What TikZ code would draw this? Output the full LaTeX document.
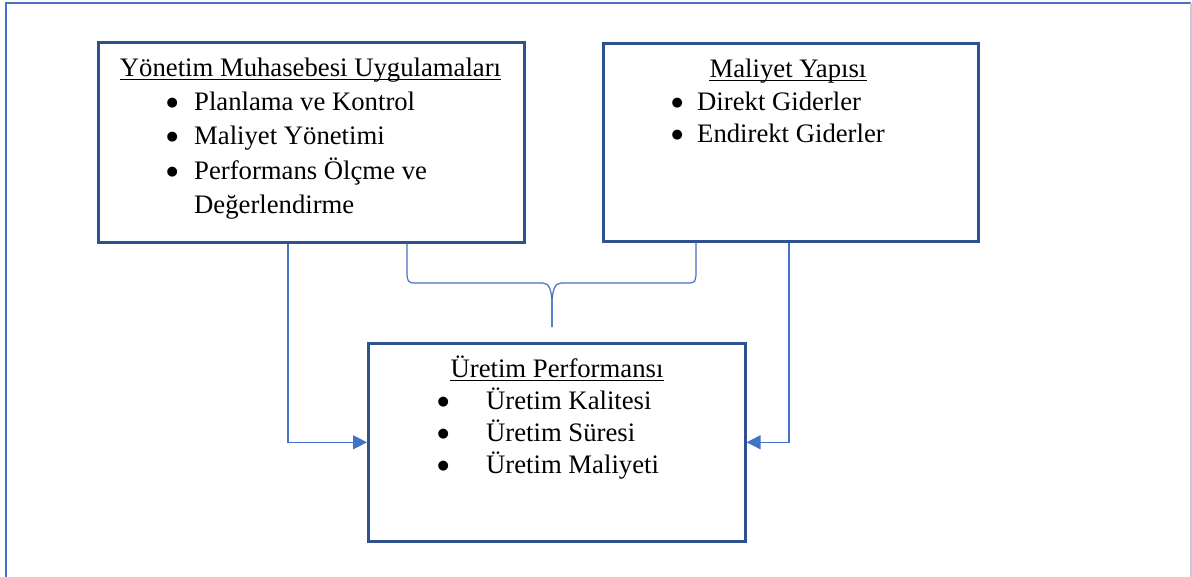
\documentclass[tikz,border=0pt]{standalone}
\usepackage{fontspec}
\setmainfont{Liberation Serif}
\newfontfamily\bulfont{DejaVu Sans}
\usetikzlibrary{arrows.meta,calc}
\definecolor{boxblue}{HTML}{2F528F}
\definecolor{linkblue}{HTML}{4472C4}
\definecolor{edgegray}{HTML}{C5CCDA}
\newcommand{\bigbul}[1]{\makebox[#1][c]{\raisebox{3.9pt}{\bulfont\fontsize{13}{14}\selectfont ●}}}
\tikzset{
  box/.style={draw=boxblue, line width=2.6pt, anchor=north west, inner sep=0pt},
  conn/.style={draw=linkblue, line width=1.3pt},
  arr/.style={conn, -{Triangle[length=14pt,width=14pt]}},
  brace/.style={draw=linkblue, line width=1.2pt},
  txt/.style={anchor=base west, inner sep=0pt, font=\fontsize{26.7}{33}\selectfont},
  ttl/.style={anchor=base, inner sep=0pt, font=\fontsize{26.7}{33}\selectfont},
  uline/.style={draw=black, line width=1.7pt}
}
\begin{document}
\begin{tikzpicture}[x=1pt,y=-1pt]
\useasboundingbox (0,0) rectangle (1192,576);
\clip (0,0) rectangle (1192,576);
% outer frame
\draw[draw=linkblue, line width=2.2pt] (6,600) -- (6,3) -- (1191,3);
\draw[draw=edgegray, line width=1.6pt] (1191,3) -- (1191,600);

% boxes
\node[box, minimum width=426pt, minimum height=200pt] (b1) at (97,41) {};
\node[box, minimum width=375pt, minimum height=198pt] (b2) at (602,42) {};
\node[box, minimum width=377pt, minimum height=198pt] (b3) at (367,342) {};

% box 1 text
\node[ttl] (t1) at (310.5,76) {Yönetim Muhasebesi Uygulamaları};
\draw[uline] ([yshift=-3.5pt]t1.base west) -- ([yshift=-3.5pt]t1.base east);
\node[txt] (b1i1) at (150,110) {\bigbul{44pt}Planlama ve Kontrol};
\node[txt] (b1i2) at (150,144.5) {\bigbul{44pt}Maliyet Yönetimi};
\node[txt] (b1i3) at (150,179) {\bigbul{44pt}Performans Ölçme ve};
\node[txt] (b1i4) at (194,213) {Değerlendirme};

% box 2 text
\node[ttl] (t2) at (788,77) {Maliyet Yapısı};
\draw[uline] ([yshift=-3.5pt]t2.base west) -- ([yshift=-3.5pt]t2.base east);
\node[txt] (b2i1) at (657,110) {\bigbul{40pt}Direkt Giderler};
\node[txt] (b2i2) at (657,142.5) {\bigbul{40pt}Endirekt Giderler};

% box 3 text
\node[ttl] (t3) at (557,377) {Üretim Performansı};
\draw[uline] ([yshift=-3.5pt]t3.base west) -- ([yshift=-3.5pt]t3.base east);
\node[txt] (b3i1) at (400,409.5) {\bigbul{86pt}Üretim Kalitesi};
\node[txt] (b3i2) at (400,441.5) {\bigbul{86pt}Üretim Süresi};
\node[txt] (b3i3) at (400,473) {\bigbul{86pt}Üretim Maliyeti};

% connectors
\draw[arr] ($(b1.south west)+(191,0)$) |- (b3.west);
\draw[arr] ($(b2.south west)+(187,0)$) |- (b3.east);

% brace
\coordinate (tip) at (552,327);
\draw[brace] ($(b1.south west)+(310,0)$) -- (407,272)
  .. controls (407,281) and (408,283) .. (415,283) -- (543,283)
  .. controls (549,283) and (552,290) .. (552,305) -- (tip);
\draw[brace] ($(b2.south west)+(94,0)$) -- (696,272)
  .. controls (696,281) and (695,283) .. (689,283) -- (561,283)
  .. controls (555,283) and (552,290) .. (552,305) -- (tip);
\end{tikzpicture}
\end{document}
